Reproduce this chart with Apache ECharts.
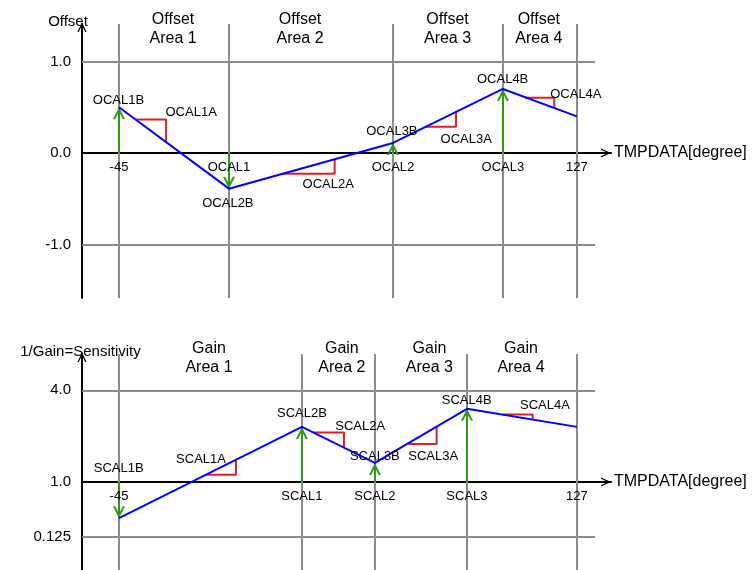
<!DOCTYPE html>
<html><head><meta charset="utf-8">
<script src="https://cdn.jsdelivr.net/npm/echarts@6/dist/echarts.min.js"></script>
<style>html,body{margin:0;padding:0;background:#fff}#c{width:752px;height:570px}</style>
</head><body><div id="c"></div>
<script>
// ---------- Offset panel (top) ----------
const offsetBreakX = [-45, -3.7, 57.9, 99.2, 127];
const offsetValues = [0.50, -0.39, 0.11, 0.70, 0.40];
const offsetXTickLabels = ['-45', 'OCAL1', 'OCAL2', 'OCAL3', '127'];
const offsetYTicks = [1, 0, -1];
const offsetYTickLabels = ['1.0', '0.0', '-1.0'];
const offsetGridY = [1, -1];
const offsetArrowCount = 4;
// slope markers: [xStart, xEnd, yHorizontal, yVerticalEnd]
const offsetSlopes = [
  [-38.6, -27.3, 0.365, 0.12],
  [16.5, 36.0, -0.228, -0.07],
  [70.3, 81.6, 0.286, 0.448],
  [107.5, 118.5, 0.605, 0.488]
];
const offsetPointLabels = [
  [-45.2, 0.572, 'OCAL1B'], [-4.1, -0.550, 'OCAL2B'], [57.5, 0.240, 'OCAL3B'], [99.1, 0.809, 'OCAL4B'],
  [-17.9, 0.448, 'OCAL1A'], [33.6, -0.339, 'OCAL2A'], [85.4, 0.150, 'OCAL3A'], [126.6, 0.642, 'OCAL4A']
];
const offsetAreaLabels = [
  [-24.7, 1.35, 'Offset\nArea 1'], [23.0, 1.35, 'Offset\nArea 2'],
  [78.4, 1.35, 'Offset\nArea 3'], [112.7, 1.35, 'Offset\nArea 4']
];

// ---------- Gain panel (bottom) ----------
const gainBreakX = [-45, 23.7, 51.1, 85.7, 127];
const gainValues = [-0.393, 0.601, 0.208, 0.798, 0.601];
const gainXTickLabels = ['-45', 'SCAL1', 'SCAL2', 'SCAL3', '127'];
const gainYTicks = [1, 0, -0.595];
const gainYTickLabels = ['4.0', '1.0', '0.125'];
const gainGridY = [1, -0.595];
const gainArrowCount = 4;
const gainSlopes = [
  [-12.3, -1.06, 0.08, 0.243],
  [28.0, 39.5, 0.539, 0.38],
  [63.5, 74.3, 0.415, 0.603],
  [99.1, 110.4, 0.735, 0.68]
];
const gainPointLabels = [
  [-45.1, 0.149, 'SCAL1B'], [23.7, 0.746, 'SCAL2B'], [51.1, 0.280, 'SCAL3B'], [85.6, 0.889, 'SCAL4B'],
  [-14.2, 0.251, 'SCAL1A'], [45.6, 0.608, 'SCAL2A'], [73.0, 0.280, 'SCAL3A'], [115.0, 0.834, 'SCAL4A']
];
const gainAreaLabels = [
  [-11.2, 1.348, 'Gain\nArea 1'], [38.7, 1.348, 'Gain\nArea 2'],
  [71.6, 1.348, 'Gain\nArea 3'], [106.0, 1.348, 'Gain\nArea 4']
];

// ---------- layout / style ----------
const FONT = '"Liberation Sans", Arial, sans-serif';
const X_MIN = -58.9, X_MAX = 139.8, GRID_X_END = 133.8;
const TOP_Y = [-1.585, 1.41], BOT_Y = [-0.958, 1.395];
const CHEVRON = 'path://M0.5,10 L5,0 L9.5,10 L8.2,10 L5,3.2 L1.8,10 Z';
const GREEN_CHEVRON = 'path://M0.5,10 L5,0 L9.5,10 L7.9,10 L5,3.8 L2.1,10 Z';
const GRAY = '#8c8c8c', BLUE = '#0000ff', RED = '#dd2020', GREEN = '#2f9a12', TXT = '#000';

function nearestIndex(arr, v) {
  let bi = 0;
  arr.forEach((a, i) => { if (Math.abs(a - v) < Math.abs(arr[bi] - v)) bi = i; });
  return bi;
}

function makeX(gi) {
  return {
    type: 'value', gridIndex: gi, min: X_MIN, max: X_MAX, z: 4,
    name: 'TMPDATA[degree]', nameLocation: 'end', nameGap: 3,
    nameTextStyle: { fontFamily: FONT, fontSize: 16, color: TXT, padding: [0, 0, 8, 0] },
    axisLine: { onZero: true, symbol: ['none', CHEVRON], symbolSize: [10, 10], symbolOffset: [0, -5],
      lineStyle: { color: '#000', width: 2 } },
    axisTick: { show: false }, splitLine: { show: false }, axisLabel: { show: false }
  };
}
function makeY(gi, range, name, ticks, labels, pad) {
  return {
    type: 'value', gridIndex: gi, min: range[0], max: range[1], z: 4,
    name: name, nameLocation: 'end', nameGap: -5,
    nameTextStyle: { fontFamily: FONT, fontSize: 15, color: TXT, padding: pad },
    axisLine: { onZero: false, symbol: ['none', CHEVRON], symbolSize: [10, 10], symbolOffset: [0, -3],
      lineStyle: { color: '#000', width: 2 } },
    axisTick: { show: false }, splitLine: { show: false },
    axisLabel: { customValues: ticks, formatter: v => labels[nearestIndex(ticks, v)],
      margin: 11, fontFamily: FONT, fontSize: 15, color: TXT }
  };
}

function panelSeries(gi, breakX, values, gridY, yRange, arrowCount, slopes, xTickLabels, pointLabels, areaLabels) {
  const s = [];
  const gridLines = breakX.map(x => [{ coord: [x, yRange[0]] }, { coord: [x, yRange[1]] }])
    .concat(gridY.map(y => [{ coord: [X_MIN, y] }, { coord: [GRID_X_END, y] }]));
  s.push({
    type: 'line', xAxisIndex: gi, yAxisIndex: gi, data: [], z: 1, silent: true,
    markLine: { silent: true, symbol: 'none', animation: false, label: { show: false },
      emphasis: { disabled: true }, lineStyle: { color: GRAY, width: 2, type: 'solid' }, data: gridLines }
  });
  const arrows = breakX.slice(0, arrowCount).map((x, i) => [{ coord: [x, 0] }, { coord: [x, values[i]] }]);
  s.push({
    type: 'line', xAxisIndex: gi, yAxisIndex: gi, data: [], z: 3, silent: true,
    markLine: { silent: true, symbol: ['none', GREEN_CHEVRON], symbolSize: 12,
      symbolOffset: [[0, 0], [0, 6]], animation: false, label: { show: false },
      emphasis: { disabled: true }, lineStyle: { color: GREEN, width: 2, type: 'solid' }, data: arrows }
  });
  slopes.forEach(t => s.push({
    type: 'line', xAxisIndex: gi, yAxisIndex: gi, z: 4, silent: true, symbol: 'none',
    lineStyle: { color: RED, width: 2 },
    data: [[t[0], t[2]], [t[1], t[2]], [t[1], t[3]]]
  }));
  s.push({
    type: 'line', xAxisIndex: gi, yAxisIndex: gi, z: 5, silent: true, symbol: 'none',
    lineStyle: { color: BLUE, width: 2 },
    data: breakX.map((x, i) => [x, values[i]])
  });
  const lbl = (arr, size, lh, pos, dist) => ({
    type: 'scatter', xAxisIndex: gi, yAxisIndex: gi, z: 6, silent: true, symbolSize: 1,
    itemStyle: { color: 'rgba(0,0,0,0)' },
    label: { show: true, position: pos, distance: dist, formatter: p => p.data[2], color: TXT, opacity: 1,
      fontFamily: FONT, fontSize: size, lineHeight: lh, textBorderWidth: 0 },
    data: arr
  });
  s.push(lbl(breakX.map((x, i) => [x, 0, xTickLabels[i]]), 13, 15, 'bottom', 6));
  s.push(lbl(pointLabels, 13, 15, 'inside', 0));
  s.push(lbl(areaLabels, 16, 19, 'inside', 0));
  return s;
}

const chart = echarts.init(document.getElementById('c'));
chart.setOption({
  animation: false,
  backgroundColor: '#fff',
  grid: [
    { left: 82, right: 141, top: 24, height: 274 },
    { left: 82, right: 141, top: 354, bottom: 0 }
  ],
  xAxis: [makeX(0), makeX(1)],
  yAxis: [
    makeY(0, TOP_Y, 'Offset', offsetYTicks, offsetYTickLabels, [0, 28, 0, 0]),
    makeY(1, BOT_Y, '1/Gain=Sensitivity', gainYTicks, gainYTickLabels, [0, 3, 0, 0])
  ],
  series: [].concat(
    panelSeries(0, offsetBreakX, offsetValues, offsetGridY, TOP_Y, offsetArrowCount, offsetSlopes, offsetXTickLabels, offsetPointLabels, offsetAreaLabels),
    panelSeries(1, gainBreakX, gainValues, gainGridY, BOT_Y, gainArrowCount, gainSlopes, gainXTickLabels, gainPointLabels, gainAreaLabels)
  )
});
</script></body></html>
